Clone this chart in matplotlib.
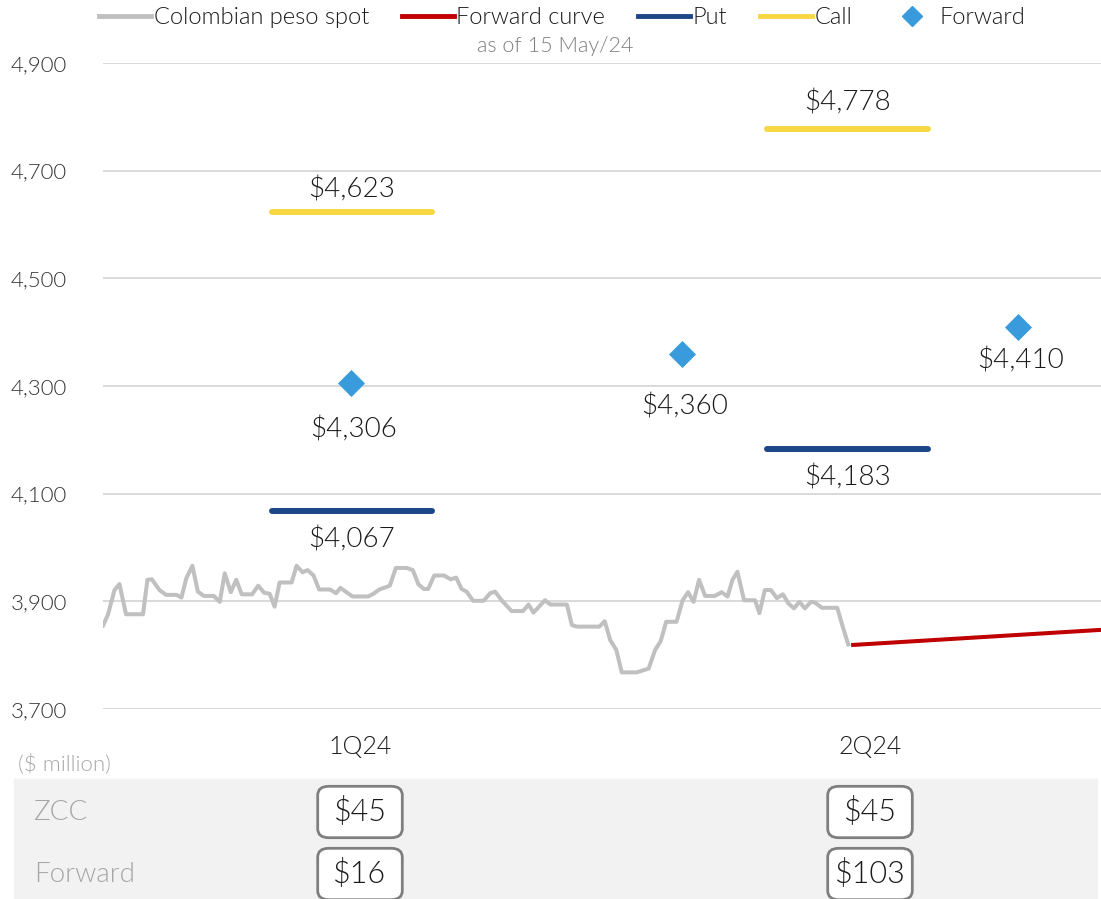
import matplotlib.pyplot as plt
from matplotlib.lines import Line2D
from matplotlib.patches import Rectangle, FancyBboxPatch

plt.rcParams['font.family'] = ['Lato', 'DejaVu Sans']
plt.rcParams['font.weight'] = 300

# Colombian peso spot (day of year from 1 Jan 24, COP per USD)
spot_day = [0.0, 0.9, 2.1, 3.0, 4.2, 7.3, 8.1, 8.9, 10.3, 11.5, 13.4, 14.3, 15.2, 16.3,
            17.3, 18.4, 20.2, 21.3, 22.2, 23.3, 24.3, 25.3, 27.2, 28.3, 29.4, 30.4, 31.3,
            32.2, 34.4, 35.3, 36.4, 37.3, 38.4, 39.4, 41.4, 42.5, 43.3, 45.5, 48.4, 49.3,
            50.4, 52.3, 53.4, 55.4, 56.5, 57.5, 58.5, 59.3, 60.4, 62.2, 63.4, 64.4, 65.4,
            66.3, 67.5, 69.4, 70.6, 71.5, 72.7, 74.5, 76.6, 77.6, 78.5, 80.6, 81.6, 84.6,
            85.5, 86.4, 90.5, 91.5, 92.5, 93.6, 94.6, 97.3, 99.5, 100.7, 101.7, 102.7,
            104.6, 105.7, 106.7, 107.7, 108.7, 109.8, 111.6, 112.8, 113.9, 114.8, 115.7,
            116.9, 118.9, 119.7, 120.7, 121.8, 122.9, 124.0, 125.0, 126.0, 127.0, 128.0,
            129.1, 129.8, 131.1, 133.9, 134.9, 135.9]
spot_rate = [3855, 3875, 3921, 3932, 3876, 3876, 3940, 3941, 3921, 3912, 3912, 3907, 3943, 3966,
             3918, 3910, 3910, 3899, 3952, 3917, 3940, 3913, 3913, 3929, 3916, 3914, 3890,
             3935, 3935, 3966, 3954, 3958, 3948, 3922, 3922, 3915, 3925, 3909, 3909, 3914,
             3922, 3929, 3962, 3962, 3958, 3932, 3923, 3923, 3948, 3948, 3941, 3944, 3923,
             3918, 3901, 3901, 3915, 3918, 3902, 3882, 3882, 3894, 3879, 3902, 3894, 3894,
             3856, 3853, 3853, 3863, 3828, 3810, 3768, 3768, 3775, 3810, 3826, 3862,
             3862, 3902, 3917, 3899, 3940, 3910, 3910, 3917, 3909, 3940, 3955,
             3902, 3902, 3878, 3921, 3921, 3906, 3913, 3896, 3887, 3899, 3887,
             3899, 3898, 3888, 3888, 3853, 3820]

fwd_curve_day = [136.8, 182.0]
fwd_curve_rate = [3819, 3847]

quarters = ['1Q24', '2Q24']
quarter_label_day = [46.9, 139.9]
band_start = [30.8, 121.1]
band_end = [60.0, 150.5]
put_strike = [4067, 4183]
call_strike = [4623, 4778]

forward_day = [45.2, 105.6, 166.9]
forward_rate = [4306, 4360, 4410]

table_rows = ['ZCC', 'Forward']
zcc_values = ['$45', '$45']
forward_values = ['$16', '$103']

yticks = [3700, 3900, 4100, 4300, 4500, 4700, 4900]

grey = '#c0c0c0'
red = '#c00000'
navy = '#1d4686'
yellow = '#f7d843'
blue = '#3a9bdc'
txt = '#1a1a1a'

fig = plt.figure(figsize=(11.01, 8.99), dpi=100)
ax = fig.add_axes([103 / 1101, 1 - 709 / 899, 1 - 103 / 1101, (709 - 63) / 899])

ax.plot(spot_day, spot_rate, color=grey, lw=2.9, zorder=3)
ax.plot(fwd_curve_day, fwd_curve_rate, color=red, lw=2.9, zorder=3)

call_offsets = [16, 18.5]
for i in range(len(quarters)):
    ax.plot([band_start[i], band_end[i]], [put_strike[i]] * 2, color=navy, lw=4.3,
            solid_capstyle='round', zorder=3)
    ax.plot([band_start[i], band_end[i]], [call_strike[i]] * 2, color=yellow, lw=4.3,
            solid_capstyle='round', zorder=3)
    mid = (band_start[i] + band_end[i]) / 2
    ax.annotate(f'${call_strike[i]:,}', (mid, call_strike[i]), xytext=(0, call_offsets[i]),
                textcoords='offset points', ha='center', va='center', fontsize=20, color=txt)
    ax.annotate(f'${put_strike[i]:,}', (mid, put_strike[i]), xytext=(0, -20.5),
                textcoords='offset points', ha='center', va='center', fontsize=20, color=txt)

ax.scatter(forward_day, forward_rate, marker='D', s=190, color=blue, zorder=4, linewidths=0)
fwd_offsets = [-34, -38, -24.5]
for d, r, off in zip(forward_day, forward_rate, fwd_offsets):
    ax.annotate(f'${r:,}', (d, r), xytext=(2, off), textcoords='offset points',
                ha='center', va='center', fontsize=20, color=txt)

ax.set_xlim(0, 182)
ax.set_ylim(3700, 4900)
ax.set_yticks(yticks)
ax.set_yticklabels([f'{v:,}' for v in yticks])
ax.set_xticks(quarter_label_day)
ax.set_xticklabels(quarters)
ax.tick_params(axis='both', length=0, labelsize=16, colors='#333333')
ax.tick_params(axis='x', pad=19, labelsize=18, colors=txt)
ax.tick_params(axis='y', pad=26)
ax.grid(axis='y', color='#d9d9d9', lw=1.4)
ax.set_axisbelow(True)
for s in ax.spines.values():
    s.set_visible(False)

# legend
handles = [Line2D([], [], color=grey, lw=3.5),
           Line2D([], [], color=red, lw=3.5),
           Line2D([], [], color=navy, lw=3.5),
           Line2D([], [], color=yellow, lw=3.5),
           Line2D([], [], color=blue, marker='D', ls='none', markersize=10)]
names = ['Colombian peso spot', 'Forward curve', 'Put', 'Call', 'Forward']
fig.legend(handles, names, loc='center', bbox_to_anchor=(0.511, 1 - 18 / 899), ncol=5,
           frameon=False, fontsize=17, handlelength=2.2, handletextpad=0.1,
           columnspacing=1.4, labelcolor=txt)
fig.text(555 / 1101, 1 - 46 / 899, 'as of 15 May/24', ha='center', va='center',
         fontsize=15.5, color='#7f7f7f')

# table below the chart
fig.text(18 / 1101, 1 - 764 / 899, '($ million)', ha='left', va='center', fontsize=16,
         color='#a6a6a6')
fig.patches.append(Rectangle((14 / 1101, 0), (1097 - 14) / 1101, (899 - 779) / 899,
                             transform=fig.transFigure, color='#f2f2f2', zorder=0))
row_y = [812, 874]
box_x = [360, 870]
for r, (name, vals) in enumerate(zip(table_rows, [zcc_values, forward_values])):
    yf = 1 - row_y[r] / 899
    fig.text(34 / 1101, yf, name, ha='left', va='center', fontsize=20, color='#a6a6a6')
    for q, v in enumerate(vals):
        w, h = 78 / 1101, 46 / 899
        box = FancyBboxPatch((box_x[q] / 1101 - w / 2, yf - h / 2), w, h,
                             boxstyle='round,pad=0.003,rounding_size=0.01',
                             transform=fig.transFigure, facecolor='white',
                             edgecolor='#7f7f7f', lw=2, zorder=2)
        fig.patches.append(box)
        fig.text(box_x[q] / 1101, yf, v, ha='center', va='center', fontsize=22,
                 color=txt, zorder=3)

fig.savefig('out.png', dpi=100)
